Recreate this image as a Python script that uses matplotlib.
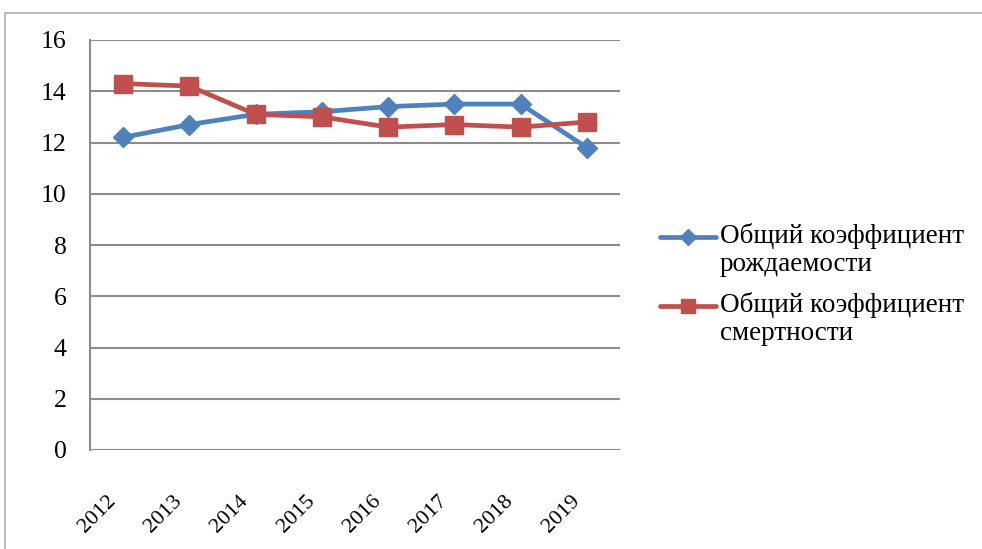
import matplotlib.pyplot as plt
from matplotlib.patches import Rectangle
from matplotlib.lines import Line2D
from matplotlib.transforms import ScaledTranslation

# Birth and death rates per 1000 population
years = ['2012', '2013', '2014', '2015', '2016', '2017', '2018', '2019']
birth_rate = [12.2, 12.7, 13.1, 13.2, 13.4, 13.5, 13.5, 11.8]
death_rate = [14.3, 14.2, 13.1, 13.0, 12.6, 12.7, 12.6, 12.8]
labels = ['Общий коэффициент\nрождаемости', 'Общий коэффициент\nсмертности']

blue = '#4F81BD'
red = '#C0504D'

plt.rcParams['font.family'] = ['Liberation Serif', 'DejaVu Serif']

W, H = 982, 549
fig = plt.figure(figsize=(W / 100, H / 100), dpi=100)
fig.set_facecolor('w')

# outer chart frame
fig.patches.append(Rectangle((5 / W, -0.1), 1.1, 1 - 13 / H + 0.1,
                             transform=fig.transFigure, fill=False,
                             edgecolor='#b0b0b0', linewidth=1.2))

ax = fig.add_axes([90 / W, 1 - 450 / H, 530 / W, 410 / H])

x = range(len(years))
ax.plot(x, birth_rate, color=blue, linewidth=3.4, marker='D',
        markersize=10.5, zorder=3)
ax.plot(x, death_rate, color=red, linewidth=3.4, marker='s',
        markersize=13.5, zorder=3)

ax.set_xlim(-0.5, len(years) - 0.5)
ax.set_ylim(0, 16)
ax.set_yticks(range(0, 17, 2))
ax.set_xticks(list(x))
ax.set_xticklabels(years, rotation=45, ha='right', va='center',
                   rotation_mode='anchor', fontsize=16)
ax.yaxis.grid(True, color='#8c8c8c', linewidth=1.5)
ax.set_axisbelow(True)

for s in ['top', 'right', 'bottom']:
    ax.spines[s].set_visible(False)
ax.spines['left'].set_color('#8c8c8c')
ax.spines['left'].set_linewidth(1.5)
ax.tick_params(axis='both', length=0)
ax.tick_params(axis='y', pad=17, labelsize=18.5)
ax.tick_params(axis='x', pad=35)
shift = ScaledTranslation(-10 / 100, 0, fig.dpi_scale_trans)
for lbl in ax.get_xticklabels():
    lbl.set_transform(lbl.get_transform() + shift)

# legend: handle sits level with the first line of each label
legend_rows = [(237, blue, 'D', 8, labels[0]),
               (306, red, 's', 10.5, labels[1])]
for y, c, m, ms, text in legend_rows:
    yf = 1 - y / H
    fig.add_artist(Line2D([660 / W, 716 / W], [yf, yf], transform=fig.transFigure,
                          color=c, linewidth=3.4, solid_capstyle='round'))
    fig.add_artist(Line2D([688 / W], [yf], transform=fig.transFigure,
                          color=c, marker=m, markersize=ms))
    fig.text(720 / W, 1 - (y - 14) / H, text, fontsize=19.5, va='top',
             ha='left', linespacing=1.15)

fig.savefig('out.png', dpi=100)
